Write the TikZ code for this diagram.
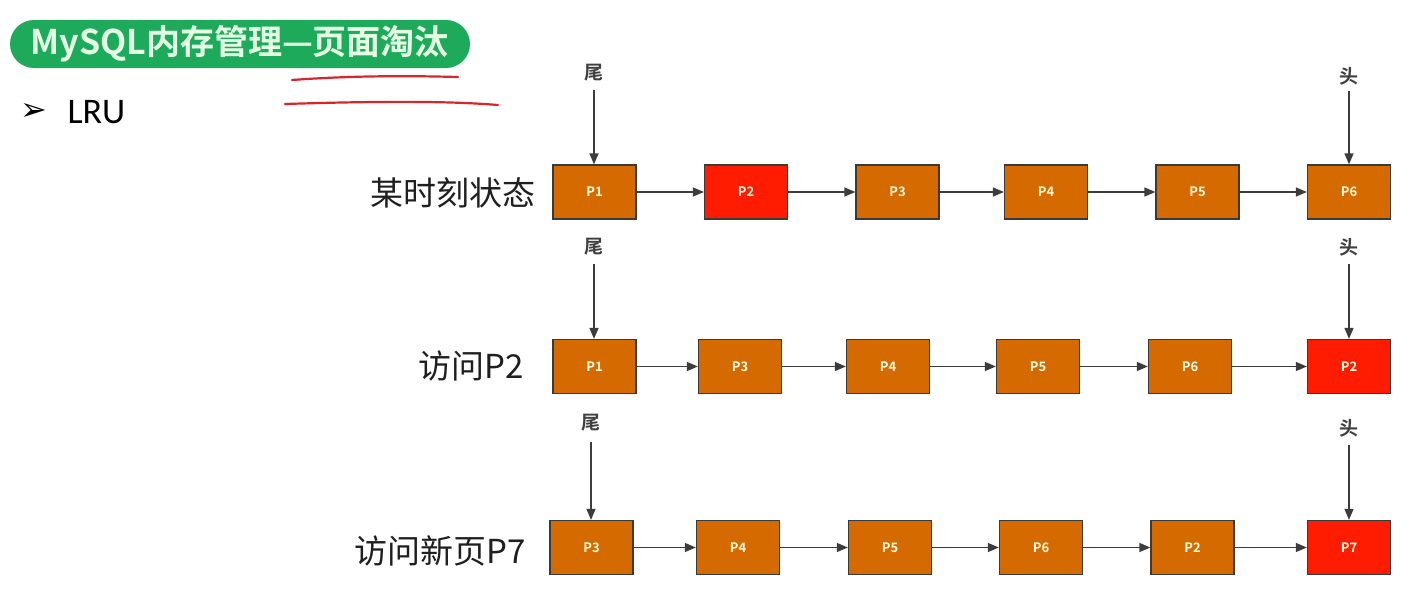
\documentclass[tikz,border=0pt]{standalone}
\usepackage{fontspec}
\setmainfont{Noto Sans}
\newfontfamily\cjkfont{Noto Sans CJK SC}
\newfontfamily\cjkbold{Noto Sans CJK SC Bold}
\newfontfamily\lrufont{Carlito}
\newfontfamily\symfont{DejaVu Sans}
\usetikzlibrary{arrows.meta}
\definecolor{pageorange}{HTML}{D56B00}
\definecolor{pagered}{HTML}{FF1C00}
\definecolor{pageedge}{HTML}{3A3A3A}
\definecolor{titlegreen}{HTML}{1DAA5A}
\definecolor{inkred}{HTML}{D8262A}
\definecolor{linkgray}{HTML}{3C3C3C}
\tikzset{
  page/.style={draw=pageedge, line width=1.3pt, fill=pageorange,
    minimum width=83pt, minimum height=54pt, inner sep=0pt,
    font=\cjkbold\fontsize{13}{13}\selectfont, text=white!88!yellow},
  hot/.style={page, fill=pagered},
  link/.style={draw=linkgray, line width=1.3pt, -{Triangle[length=11pt,width=9pt]}},
  endlabel/.style={font=\cjkbold\fontsize{19}{19}\selectfont, text=black!75},
  rowlabel/.style={anchor=east, font=\cjkfont\fontsize{33}{33}\selectfont, text=black!88},
}
\begin{document}
\begin{tikzpicture}[x=1pt,y=-1pt]
\useasboundingbox[fill=white] (0,0) rectangle (1411,606);

% title badge and underline strokes
\node[fill=titlegreen, rounded corners=24pt, minimum width=460pt, minimum height=48pt,
  inner sep=0pt] (title) at (240,44) {};
\node[font=\cjkbold\fontsize{34}{34}\selectfont, text=white!90!green, anchor=west]
  (titletext) at (27,44) {MySQL内存管理—页面淘汰};
\draw[inkred, line width=2.2pt, line cap=round] (292,80) .. controls (360,75) and (420,76) .. (458,77);
\draw[inkred, line width=2.2pt, line cap=round] (285,104) .. controls (380,101) and (450,101) .. (498,105);

% bullet
\node[font=\symfont\fontsize{32}{32}\selectfont, text=black] (bullet) at (34,112) {➢};
\node[font=\lrufont\fontsize{36}{36}\selectfont, anchor=west, text=black] (lru) at (64,112) {LRU};

% row 1
\node[rowlabel] (r1) at (539,193) {某时刻状态};
\node[page] (a1) at (594.5,192) {P1};
\node[hot]  (a2) at (746,192) {P2};
\node[page] (a3) at (897.5,192) {P3};
\node[page] (a4) at (1046,192) {P4};
\node[page] (a5) at (1197.5,192) {P5};
\node[page] (a6) at (1349,192) {P6};
\foreach \i/\j in {a1/a2,a2/a3,a3/a4,a4/a5,a5/a6} \draw[link] (\i) -- (\j);
\node[endlabel] (t1) at (594,73) {尾};
\node[endlabel] (h1) at (1349,76) {头};
\draw[link] (594,90) -- (a1.north -| 594,0);
\draw[link] (1349,91) -- (a6.north);

% row 2
\node[rowlabel] (r2) at (527,366) {访问P2};
\node[page] (b1) at (594.5,366.5) {P1};
\node[page] (b2) at (740,366.5) {P3};
\node[page] (b3) at (888,366.5) {P4};
\node[page] (b4) at (1038,366.5) {P5};
\node[page] (b5) at (1190,366.5) {P6};
\node[hot]  (b6) at (1349,366.5) {P2};
\foreach \i/\j in {b1/b2,b2/b3,b3/b4,b4/b5,b5/b6} \draw[link] (\i) -- (\j);
\node[endlabel] (t2) at (594,247) {尾};
\node[endlabel] (h2) at (1349,247) {头};
\draw[link] (594,264) -- (b1.north -| 594,0);
\draw[link] (1349,264) -- (b6.north);

% row 3
\node[rowlabel] (r3) at (529,551) {访问新页P7};
\node[page] (c1) at (591.5,547.5) {P3};
\node[page] (c2) at (738,547.5) {P4};
\node[page] (c3) at (890,547.5) {P5};
\node[page] (c4) at (1041,547.5) {P6};
\node[page] (c5) at (1192.5,547.5) {P2};
\node[hot]  (c6) at (1349,547.5) {P7};
\foreach \i/\j in {c1/c2,c2/c3,c3/c4,c4/c5,c5/c6} \draw[link] (\i) -- (\j);
\node[endlabel] (t3) at (591,423) {尾};
\node[endlabel] (h3) at (1349,428) {头};
\draw[link] (591,442) -- (c1.north -| 591,0);
\draw[link] (1349,445) -- (c6.north);
\end{tikzpicture}
\end{document}
